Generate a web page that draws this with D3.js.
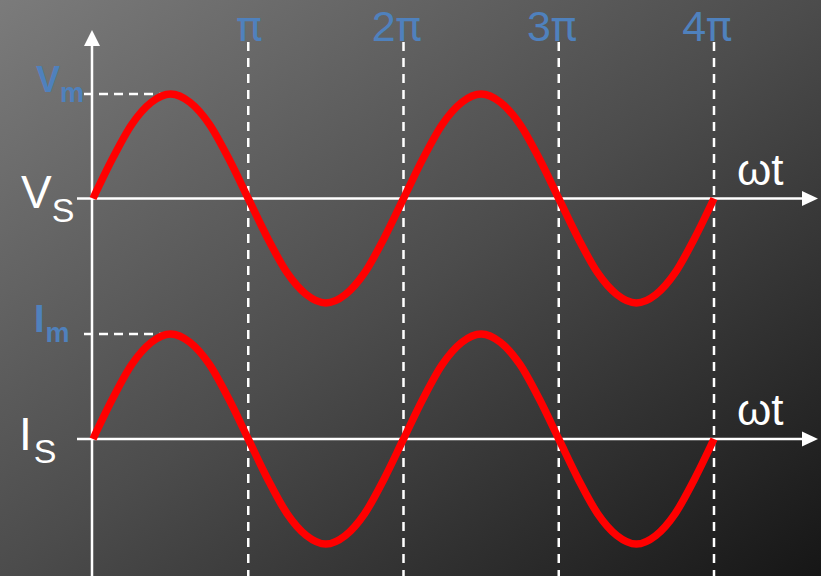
<!DOCTYPE html>
<html><head><meta charset="utf-8">
<script src="https://cdn.jsdelivr.net/npm/d3@7/dist/d3.min.js"></script>
<style>html,body{margin:0;padding:0;background:#000;}svg{display:block;}</style>
</head><body>
<svg id="c" width="821" height="576"></svg>
<script>
// Phase samples (in units of π), step π/8 over 0..4π
const phases = d3.range(0, 33).map(i => i / 8);
// Waveform values (normalized to peak = 1)
const vsValues = [0,0.38,0.71,0.92,1,0.92,0.71,0.38,0,-0.38,-0.71,-0.92,-1,-0.92,-0.71,-0.38,
                  0,0.38,0.71,0.92,1,0.92,0.71,0.38,0,-0.38,-0.71,-0.92,-1,-0.92,-0.71,-0.38,0];
const isValues = [0,0.38,0.71,0.92,1,0.92,0.71,0.38,0,-0.38,-0.71,-0.92,-1,-0.92,-0.71,-0.38,
                  0,0.38,0.71,0.92,1,0.92,0.71,0.38,0,-0.38,-0.71,-0.92,-1,-0.92,-0.71,-0.38,0];
const tickPositions = [1,2,3,4];
const tickLabels = ["π","2π","3π","4π"];

const svg = d3.select("#c");
const W = 821, H = 576;
const defs = svg.append("defs");
const grad = defs.append("linearGradient").attr("id","bg")
  .attr("x1","0%").attr("y1","0%").attr("x2","100%").attr("y2","100%");
grad.append("stop").attr("offset","0%").attr("stop-color","#7b7b7b");
grad.append("stop").attr("offset","50%").attr("stop-color","#4c4c4c");
grad.append("stop").attr("offset","100%").attr("stop-color","#161616");
svg.append("rect").attr("width",W).attr("height",H).attr("fill","url(#bg)");

const x = d3.scaleLinear().domain([0,4]).range([93,714]);
const yV = d3.scaleLinear().domain([-1,1]).range([303,94]);
const yI = d3.scaleLinear().domain([-1,1]).range([544,334]);

const font = "'Liberation Sans', Arial, sans-serif";
const blue = "#4f81bd";

// vertical dashed lines
svg.append("g").selectAll("line").data(tickPositions).join("line")
  .attr("x1", d => x(d)).attr("x2", d => x(d))
  .attr("y1", 42).attr("y2", H)
  .attr("stroke","#fff").attr("stroke-width",2.5).attr("stroke-dasharray","9,7");

// tick labels
const tl = svg.append("g").selectAll("text").data(tickLabels).join("text")
  .attr("x", (d,i) => x(tickPositions[i]) + (d.length > 1 ? -7 : 1))
  .attr("y", 41)
  .attr("text-anchor","middle")
  .attr("font-family", font).attr("font-size", 43)
  .attr("fill", blue);
tl.each(function(d) {
  const t = d3.select(this);
  const pre = d.slice(0, -1);
  if (pre) t.append("tspan").text(pre);
  t.append("tspan").attr("font-family","Roboto, sans-serif").text("π");
});

// peak dashed lines
[yV, yI].forEach(ys => {
  svg.append("line").attr("x1",84).attr("x2",x(0.5)).attr("y1",ys(1)).attr("y2",ys(1))
    .attr("stroke","#fff").attr("stroke-width",2.5).attr("stroke-dasharray","9,6");
});

// axes
const axisColor = "#fff";
svg.append("line").attr("x1",92).attr("x2",92).attr("y1",44).attr("y2",H)
  .attr("stroke",axisColor).attr("stroke-width",2.5);
svg.append("path").attr("d","M92,30 L84,46 L100,46 Z").attr("fill",axisColor);
[yV, yI].forEach(ys => {
  const y0 = ys(0);
  svg.append("line").attr("x1",77).attr("x2",804).attr("y1",y0).attr("y2",y0)
    .attr("stroke",axisColor).attr("stroke-width",2.5);
  svg.append("path").attr("d",`M818,${y0} L802,${y0-7.5} L802,${y0+7.5} Z`).attr("fill",axisColor);
  svg.append("text").attr("x",737).attr("y",y0-14)
    .attr("font-family",font).attr("font-size",44).attr("fill","#fff").text("ωt");
});

// waveforms
const line = (ys) => d3.line().x((d,i) => x(phases[i])).y(d => ys(d)).curve(d3.curveCardinal.tension(0));
svg.append("path").datum(vsValues).attr("d", line(yV))
  .attr("fill","none").attr("stroke","#ff0000").attr("stroke-width",7.5);
svg.append("path").datum(isValues).attr("d", line(yI))
  .attr("fill","none").attr("stroke","#ff0000").attr("stroke-width",7.5);

// left labels
const vs = svg.append("text").attr("x",21).attr("y",208)
  .attr("font-family",font).attr("font-size",46).attr("fill","#fff");
vs.append("tspan").text("V");
vs.append("tspan").attr("font-size",34).attr("dy",14).attr("dx",0).text("S");

const is = svg.append("text").attr("x",19).attr("y",450)
  .attr("font-family",font).attr("font-size",46).attr("fill","#fff");
is.append("tspan").text("I");
is.append("tspan").attr("font-size",34).attr("dy",13).attr("dx",2).text("S");

const vm = svg.append("text").attr("x",36).attr("y",92)
  .attr("font-family",font).attr("font-weight","bold").attr("font-size",36).attr("fill",blue);
vm.append("tspan").text("V");
vm.append("tspan").attr("font-size",27).attr("dy",10).text("m");

const im = svg.append("text").attr("x",34).attr("y",332)
  .attr("font-family",font).attr("font-weight","bold").attr("font-size",38).attr("fill",blue);
im.append("tspan").text("I");
im.append("tspan").attr("font-size",27).attr("dy",10).attr("dx",1).text("m");
</script>
</body></html>
